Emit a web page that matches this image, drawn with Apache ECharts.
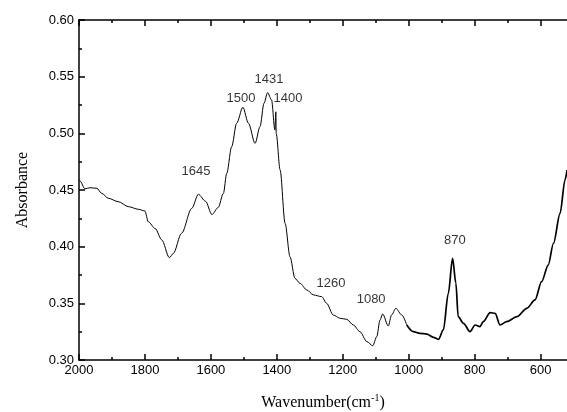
<!DOCTYPE html>
<html>
<head>
<meta charset="utf-8">
<script src="https://cdn.jsdelivr.net/npm/echarts@6/dist/echarts.min.js"></script>
<style>
  html, body { margin: 0; padding: 0; background: #fff; }
  #chart { width: 567px; height: 412px; }
</style>
</head>
<body>
<div id="chart"></div>
<script>
// wavenumber (cm-1) and absorbance
var wavenumber = [
  2000, 1997, 1982, 1967, 1946, 1931, 1911, 1881, 1850, 1820, 1800, 1790, 1769, 1749, 1726,
  1714, 1689, 1658, 1638, 1616, 1597, 1578, 1562, 1552, 1537, 1522, 1503, 1486, 1466, 1451,
  1439, 1428, 1416, 1406, 1403, 1402, 1390, 1375, 1360, 1345, 1330, 1309, 1289, 1264, 1249,
  1229, 1208, 1188, 1168, 1148, 1127, 1109, 1097, 1087, 1079, 1062, 1052, 1039, 1021, 1006,
  986, 966, 945, 925, 910, 895, 880, 867, 857, 850, 834, 814, 799, 784, 774,
  753, 738, 723, 703, 672, 642, 617, 597, 577, 561, 541, 526, 520
];
var absorbance = [
  0.459, 0.458, 0.451, 0.452, 0.4515, 0.447, 0.4427, 0.4397, 0.4353, 0.433, 0.4315, 0.422, 0.416, 0.406, 0.3903,
  0.394, 0.4118, 0.4338, 0.4462, 0.440, 0.4283, 0.4345, 0.447, 0.4647, 0.4882, 0.5088, 0.523, 0.5088, 0.4912, 0.5059,
  0.5265, 0.5359, 0.5294, 0.503, 0.519, 0.500, 0.4676, 0.4206, 0.391, 0.372, 0.3677, 0.3618, 0.3574, 0.3559, 0.350,
  0.3397, 0.3368, 0.3359, 0.3309, 0.325, 0.3162, 0.3126, 0.3206, 0.3353, 0.3406, 0.330, 0.3397, 0.3456, 0.3397, 0.3309,
  0.325, 0.3235, 0.3229, 0.320, 0.3182, 0.3265, 0.3588, 0.3897, 0.3677, 0.3382, 0.3324, 0.325, 0.3309, 0.3294, 0.3338,
  0.3418, 0.3412, 0.3309, 0.3338, 0.3382, 0.3456, 0.353, 0.3691, 0.3838, 0.403, 0.4294, 0.4588, 0.4676
];
var majorTicksX = [2000, 1800, 1600, 1400, 1200, 1000, 800, 600];
var minorTicksX = [1900, 1700, 1500, 1300, 1100, 900, 700];
// peak annotations: text, wavenumber, absorbance where the text sits
var peakText = ['1645', '1500', '1431', '1400', '1260', '1080', '870'];
var peakWn = [1645, 1509, 1424, 1366, 1236, 1114, 860];
var peakAbs = [0.4668, 0.5312, 0.548, 0.5312, 0.3679, 0.3538, 0.4059];

var thin = [], thick = [];
wavenumber.forEach(function (w, i) {
  if (w >= 1006) thin.push([w, absorbance[i]]);
  if (w <= 1006) thick.push([w, absorbance[i]]);
});
var peaks = peakText.map(function (t, i) {
  return { name: t, value: [peakWn[i], peakAbs[i]] };
});

var sans = 'Liberation Sans, Arial, sans-serif';
var serif = 'Liberation Serif, Times New Roman, serif';

function xAx(pos, ticks, len, withLabel, showLine) {
  return {
    type: 'value', position: pos, inverse: true, min: 520, max: 2000,
    axisLine: { show: showLine, onZero: false, lineStyle: { color: '#000', width: 1.5 } },
    axisTick: { show: true, inside: true, length: len, customValues: ticks, lineStyle: { color: '#000', width: 1.5 } },
    axisLabel: withLabel ? { show: true, customValues: ticks, color: '#000', fontFamily: sans, fontSize: 13, margin: 4,
      formatter: function (v) { return String(v); } } : { show: false },
    splitLine: { show: false }
  };
}

var xAxes = [
  xAx('bottom', majorTicksX, 6, true, true),
  xAx('bottom', minorTicksX, 3, false, false),
  xAx('top', majorTicksX, 6, false, true),
  xAx('top', minorTicksX, 3, false, false)
];
xAxes[0].name = '{a|Wavenumber(cm}{s|-1}{a|)}';
xAxes[0].nameLocation = 'middle';
xAxes[0].nameGap = 33;
xAxes[0].nameTextStyle = {
  rich: {
    a: { fontFamily: serif, fontSize: 16, color: '#000', verticalAlign: 'bottom' },
    s: { fontFamily: serif, fontSize: 10, color: '#000', verticalAlign: 'top', padding: [0, 0, 8, 0] }
  }
};

var option = {
  animation: false,
  grid: { left: 79, right: 0, top: 20, bottom: 52, outerBoundsMode: 'none', containLabel: false },
  xAxis: xAxes,
  yAxis: {
    type: 'value', min: 0.30, max: 0.60, interval: 0.05,
    name: 'Absorbance', nameLocation: 'middle', nameGap: 48,
    nameTextStyle: { fontFamily: serif, fontSize: 16, color: '#000' },
    axisLine: { show: true, lineStyle: { color: '#000', width: 1.5 } },
    axisTick: { inside: true, length: 6, lineStyle: { color: '#000', width: 1.5 } },
    minorTick: { show: true, splitNumber: 2, length: 3, lineStyle: { color: '#000', width: 1.5 } },
    axisLabel: { color: '#000', fontFamily: sans, fontSize: 13, margin: 5,
      formatter: function (v) { return v.toFixed(2); } },
    splitLine: { show: false }
  },
  series: [
    { type: 'line', data: thin, showSymbol: false, smooth: 0.3, smoothMonotone: 'x',
      lineStyle: { color: '#000', width: 1 } },
    { type: 'line', data: thick, showSymbol: false, smooth: 0.3, smoothMonotone: 'x',
      lineStyle: { color: '#000', width: 1.7 } },
    { type: 'scatter', data: peaks, symbolSize: 0, silent: true,
      label: { show: true, position: 'inside', formatter: '{b}', color: '#000',
        fontFamily: sans, fontSize: 13 } }
  ]
};

var chart = echarts.init(document.getElementById('chart'));
chart.setOption(option);
</script>
</body>
</html>
